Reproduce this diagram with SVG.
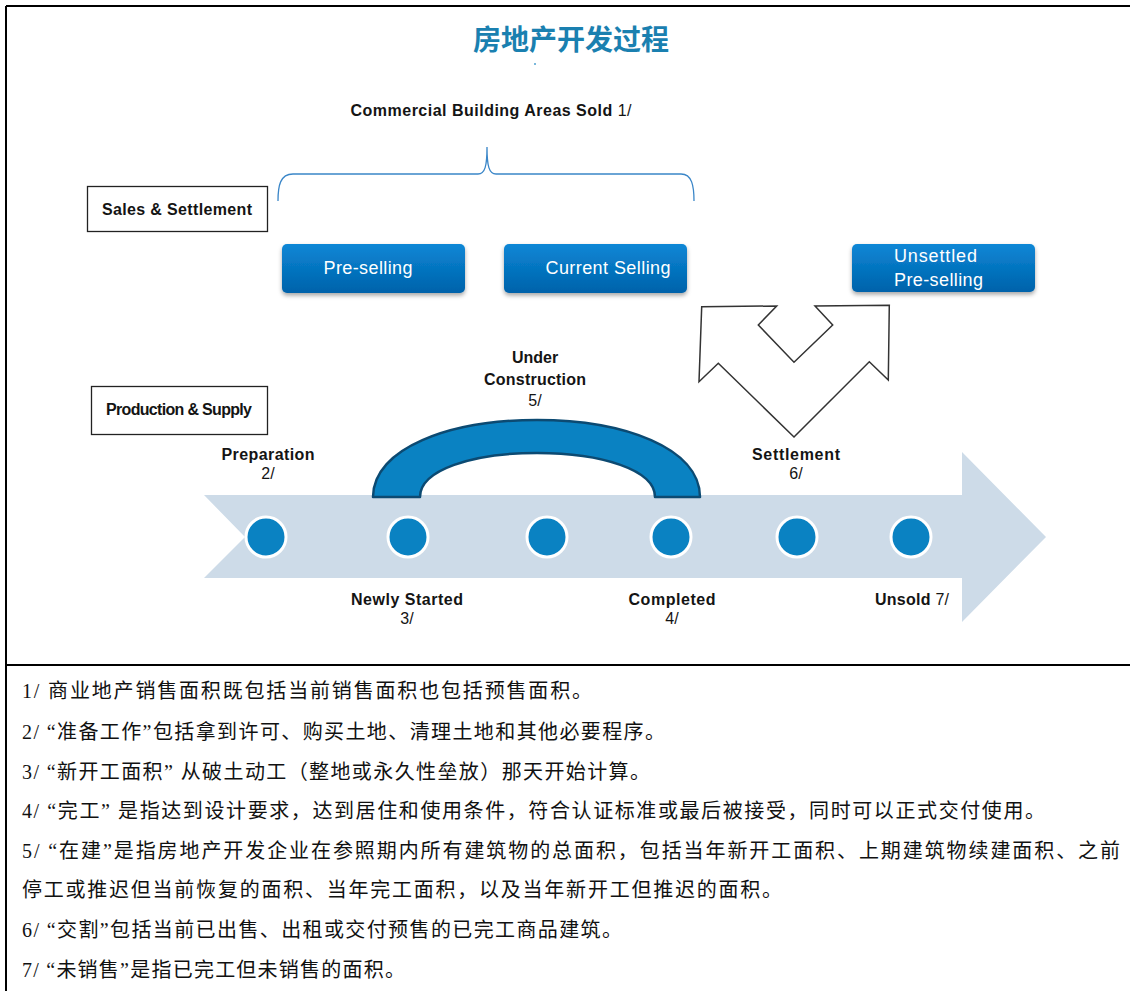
<svg xmlns="http://www.w3.org/2000/svg" width="1130" height="991" viewBox="0 0 1130 991">
<style>
.lbl{font-family:"Liberation Sans",Arial,sans-serif;font-weight:bold;font-size:16px;fill:#141414;text-anchor:middle}
.num{font-weight:normal}
.btn{font-family:"Liberation Sans",Arial,sans-serif;font-size:18px;fill:#ffffff;text-anchor:middle}
.btn-l{font-family:"Liberation Sans",Arial,sans-serif;font-size:18px;fill:#ffffff;text-anchor:start}
.note{font-family:"Liberation Serif","Noto Sans CJK SC",serif;font-size:20px;fill:#111}
.frame{stroke:#000;stroke-width:2;fill:none}
.box{fill:#fff;stroke:#222;stroke-width:1.3}
.dot{fill:#0a82c2;stroke:#fff;stroke-width:3}
</style>
<defs>
<linearGradient id="bg" x1="0" y1="0" x2="0" y2="1">
<stop offset="0" stop-color="#0b87d6"/>
<stop offset="1" stop-color="#0062aa"/>
</linearGradient>
<filter id="sh" x="-10%" y="-20%" width="120%" height="150%">
<feDropShadow dx="0" dy="2.5" stdDeviation="2" flood-color="#000" flood-opacity="0.35"/>
</filter>
</defs>
<g id="frame">
<path class="frame" d="M6,6 H1130 M6,6 V991 M6,665 H1130"/>
</g>
<g id="title">
<text x="571" y="50" font-family="Noto Sans CJK SC, sans-serif" font-weight="bold" font-size="28" fill="#1a80b0" text-anchor="middle">房地产开发过程</text>
<rect x="534" y="63" width="2" height="2" fill="#7ab8dc"/>
</g>
<g id="commercial">
<text class="lbl" x="491" y="116" textLength="281"><tspan>Commercial Building Areas Sold </tspan><tspan class="num">1/</tspan></text>
</g>
<g id="connectors" fill="none">
<path d="M278,201 C278,186 280,174 293,174 L478,174 C485,174 487,166 487,147 C487,166 489,174 496,174 L681,174 C692,174 694,186 694,201" stroke="#3a86c8" stroke-width="1.3"/>
<polygon points="701.7,306.7 776.7,306 758.3,325 794,362.3 832.7,325 815,306 889.3,305.3 888.3,380 869.3,361.7 794,437 718.3,363.3 699,381.7" fill="#fff" stroke="#333" stroke-width="1.5"/>
</g>
<g id="sales-settlement">
<rect class="box" x="87.5" y="186.5" width="180" height="45"/>
<text class="lbl" x="177" y="215" textLength="150">Sales &amp; Settlement</text>
</g>
<g id="production-supply">
<rect class="box" x="91.5" y="386.5" width="176" height="48"/>
<text class="lbl" x="179" y="415" font-size="14" textLength="146">Production &amp; Supply</text>
</g>
<g id="pre-selling">
<rect x="282" y="244" width="183" height="49" rx="5" fill="url(#bg)" filter="url(#sh)"/>
<text class="btn" x="368" y="274" textLength="89">Pre-selling</text>
</g>
<g id="current-selling">
<rect x="504" y="244" width="183" height="49" rx="5" fill="url(#bg)" filter="url(#sh)"/>
<text class="btn" x="608" y="274" textLength="125">Current Selling</text>
</g>
<g id="unsettled-pre-selling">
<rect x="852" y="244" width="183" height="48" rx="5" fill="url(#bg)" filter="url(#sh)"/>
<text class="btn-l" x="894" y="262" textLength="83">Unsettled</text>
<text class="btn-l" x="894" y="286" textLength="89">Pre-selling</text>
</g>
<g id="timeline">
<polygon points="204,495 962,495 962,452 1046,537 962,622 962,578 204,578 245,537" fill="#cddbe8"/>
</g>
<g id="under-construction">
<path d="M373,497 C373,448 450,420 537,420 C624,420 700,448 700,497 L655,497 C655,470 602,453 537,453 C472,453 420,470 420,497 Z" fill="#0a82c2" stroke="#0c4a72" stroke-width="2.5" stroke-linejoin="round"/>
<text class="lbl" x="535" y="363">Under</text>
<text class="lbl" x="535" y="385" textLength="102">Construction</text>
<text class="lbl num" x="535" y="406">5/</text>
</g>
<g id="preparation">
<circle class="dot" cx="266" cy="537" r="20"/>
<text class="lbl" x="268" y="460" textLength="93">Preparation</text>
<text class="lbl num" x="268" y="479">2/</text>
</g>
<g id="newly-started">
<circle class="dot" cx="408" cy="537" r="20"/>
<text class="lbl" x="407" y="605" textLength="112">Newly Started</text>
<text class="lbl num" x="407" y="624">3/</text>
</g>
<g id="mid-point">
<circle class="dot" cx="547" cy="537" r="20"/>
</g>
<g id="completed">
<circle class="dot" cx="671" cy="537" r="20"/>
<text class="lbl" x="672" y="605" textLength="87">Completed</text>
<text class="lbl num" x="672" y="624">4/</text>
</g>
<g id="settlement">
<circle class="dot" cx="797" cy="537" r="20"/>
<text class="lbl" x="796" y="460" textLength="88">Settlement</text>
<text class="lbl num" x="796" y="479">6/</text>
</g>
<g id="unsold">
<circle class="dot" cx="911" cy="537" r="20"/>
<text class="lbl" x="912" y="605" textLength="74"><tspan>Unsold </tspan><tspan class="num">7/</tspan></text>
</g>
<g id="notes">
<text class="note" x="22" y="698" textLength="570">1/ 商业地产销售面积既包括当前销售面积也包括预售面积。</text>
<text class="note" x="22" y="739" textLength="643">2/ “准备工作”包括拿到许可、购买土地、清理土地和其他必要程序。</text>
<text class="note" x="22" y="779" textLength="628">3/ “新开工面积” 从破土动工（整地或永久性垒放）那天开始计算。</text>
<text class="note" x="22" y="818" textLength="1023">4/ “完工” 是指达到设计要求，达到居住和使用条件，符合认证标准或最后被接受，同时可以正式交付使用。</text>
<text class="note" x="22" y="858" textLength="1098">5/ “在建”是指房地产开发企业在参照期内所有建筑物的总面积，包括当年新开工面积、上期建筑物续建面积、之前</text>
<text class="note" x="22" y="897" textLength="760">停工或推迟但当前恢复的面积、当年完工面积，以及当年新开工但推迟的面积。</text>
<text class="note" x="22" y="937" textLength="600">6/ “交割”包括当前已出售、出租或交付预售的已完工商品建筑。</text>
<text class="note" x="22" y="977" textLength="383">7/ “未销售”是指已完工但未销售的面积。</text>
</g>
</svg>
